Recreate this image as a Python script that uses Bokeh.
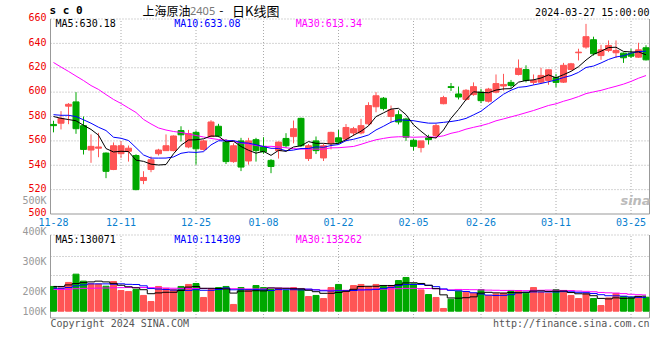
import numpy as np
import pandas as pd
from bokeh.plotting import figure
from bokeh.models import Range1d, Label, ColumnDataSource
from bokeh.core.properties import value
from bokeh.embed import file_html
from bokeh.resources import INLINE

# ---------------- data ----------------
opens = [573.5, 574.5, 588.5, 592, 572.5, 552.5, 554, 550, 536.5, 549.5,
         551.5, 548, 527.5, 536.5, 549.5, 552, 552, 568.5, 555, 567,
         553, 563.5, 572, 559, 543, 560, 543.5, 561, 555.5, 544,
         552, 562, 563.5, 578.5, 545.5, 560, 546, 558, 562.5, 561.5,
         566.5, 566.5, 574, 588, 595, 580, 581.5, 578, 560.5, 554.5,
         562.5, 564.5, 590.5, 604.5, 598.5, 594, 598, 600, 592.5, 600,
         605, 608, 614.5, 618.5, 608, 608.2, 609.6, 612, 608.2, 618.6,
         632.3, 637, 643, 630, 634.2, 632.3, 632, 632, 628.7, 636.4]
highs = [576.5, 584.4, 591, 600, 580, 565.3, 566.6, 550.5, 558.7, 559.8,
         556.2, 549, 535.1, 547.2, 553.5, 565.3, 564.5, 572, 569, 568.5,
         561, 577, 574, 561.5, 558, 562.5, 562.5, 562.5, 563, 545,
         559.5, 566.3, 576.7, 579, 557.5, 563.6, 557.5, 567.5, 569, 573.8,
         571.5, 578.1, 591.7, 600, 596, 589, 585, 579, 561.5, 560,
         565, 574, 597, 607.5, 604.6, 602.5, 608, 602.7, 603.5, 614.5,
         615, 610, 626.8, 622, 614.5, 620, 618.5, 615, 624, 624,
         635.6, 656, 645.5, 638.8, 642.4, 642.4, 632.5, 635.5, 640.5, 638.5]
lows = [567, 569.4, 573.7, 565.8, 548.8, 542, 546.6, 529.4, 536, 545.8,
        543, 519.5, 524.5, 534.3, 548, 552, 551.5, 559.5, 554, 540.4,
        552, 563, 563, 541, 542, 535.2, 540.5, 543, 549.5, 533.5,
        545.5, 554.3, 558, 555, 543.5, 549.2, 543.5, 553, 557.6, 559.5,
        564, 565.3, 572.6, 583.5, 585, 575.3, 573.5, 560, 552, 550.5,
        557, 562, 590, 601, 594, 593, 597, 591, 591.5, 599,
        601.3, 603.5, 613.7, 608, 606, 607.5, 606, 604, 607.5, 618,
        626, 635.6, 630, 626.5, 632.8, 628, 624, 628, 628.2, 626]
closes = [572.5, 578.5, 590, 570, 553, 555.5, 555, 535, 556, 556,
          554, 520, 530, 544.5, 552.5, 556, 564, 565, 566, 553.5,
          560, 575.5, 564, 543, 556, 538.5, 560, 552, 551, 539,
          559, 556, 570, 556, 556, 552, 556, 567, 559, 571,
          570, 572.5, 589, 597, 586.5, 585.5, 575.5, 563, 555.5, 560,
          561, 572.5, 595.5, 603.8, 596, 601.5, 604.5, 593, 602.5, 607,
          606.3, 605.5, 619.5, 609.5, 609.6, 613.7, 618.3, 608, 622, 623.2,
          632.8, 645.5, 631.5, 634.7, 638.3, 634.2, 628.2, 629.5, 634.7, 626.5]
volumes = [209000, 197000, 243000, 313000, 254000, 231000, 229000, 211000, 251000, 175000,
           166000, 183000, 133000, 82000, 209000, 192000, 183000, 209000, 226000, 234000,
           116000, 183000, 200000, 209000, 57000, 200000, 183000, 217000, 200000, 183000,
           192000, 175000, 200000, 192000, 124000, 133000, 107000, 200000, 226000, 175000,
           217000, 226000, 209000, 226000, 209000, 217000, 259000, 285000, 231000, 180000,
           141000, 116000, 23000, 101000, 169000, 161000, 152000, 183000, 133000, 146000,
           152000, 175000, 175000, 152000, 200000, 158000, 152000, 183000, 161000, 133000,
           107000, 146000, 107000, 48000, 112000, 150000, 124000, 118000, 124000, 118000]

# moving-average values shown before each window is complete
ma5_head = [580, 578.5, 577.5, 576.5]
ma10_head = [581.5, 581, 581, 580, 577.3, 574.5, 571.2, 568.5, 563]
ma30_head = [624.3, 620.6, 617, 613.2, 609.5, 605.4, 602.2, 598, 594, 590.7,
             587, 583.3, 577.6, 573.9, 570.6, 568.9, 567.7, 566.9, 565.7, 564.4,
             563.2, 562, 561.1, 560.7, 559.5, 558.3, 557.5, 556.2, 555.4]
vma5_head = [209000, 209000, 222000, 234000]
vma10_head = [194000, 194000, 200000, 214000, 222000, 231000, 231000, 231000, 228000]
vma30_head = [183000, 183000, 184000, 190000, 193000, 194000, 195000, 196000, 198000, 199000,
              200000, 200000, 200000, 199000, 198000, 196000, 194000, 193000, 192000, 192000,
              192000, 192000, 191000, 191000, 190000, 189000, 188000, 188000, 188000]

holidays = ["2024-01-01", "2024-02-09", "2024-02-12", "2024-02-13", "2024-02-14",
            "2024-02-15", "2024-02-16"]
tick_labels = ["11-28", "12-11", "12-25", "01-08", "01-22", "02-05", "02-26", "03-11", "03-25"]
price_ticks = [500, 520, 540, 560, 580, 600, 620, 640, 660]
vol_tick_text = ["100K", "200K", "300K", "400K", "500K"]

legend_price = ["MA5:630.18", "MA10:633.08", "MA30:613.34"]
legend_vol = ["MA5:130071", "MA10:114309", "MA30:135262"]

# ---------------- derived ----------------
days = pd.bdate_range("2023-11-28", "2024-03-27")
days = [d for d in days if d.strftime("%Y-%m-%d") not in holidays]
date_lbl = [d.strftime("%m-%d") for d in days]
n = len(opens)
idx = np.arange(n)
tick_idx = [date_lbl.index(t) for t in tick_labels]


def mavg(arr, w, head):
    s = pd.Series(arr, dtype=float).rolling(w).mean().to_numpy()
    s[:w - 1] = head
    return s


RED = "#FF5555"
GREEN = "#00A800"
o = np.array(opens, float)
c = np.array(closes, float)
col = [RED if cc >= oo else GREEN for oo, cc in zip(o, c)]
src = ColumnDataSource(dict(x=idx, h=highs, l=lows,
                            top=np.maximum(o, c), bot=np.minimum(o, c), col=col,
                            v=volumes,
                            ma5=mavg(closes, 5, ma5_head), ma10=mavg(closes, 10, ma10_head),
                            ma30=mavg(closes, 30, ma30_head),
                            vma5=mavg(volumes, 5, vma5_head), vma10=mavg(volumes, 10, vma10_head),
                            vma30=mavg(volumes, 30, vma30_head)))

# ---------------- geometry / styles ----------------
MONO = "DejaVu Sans Mono"
GRIDC = "#AAAAAA"
BORDER = "#999999"
W, H = 660, 360
PX = 7.5                      # pixels per candle slot
XS = -0.4 - 50 / PX           # canvas left edge in index units
XE = XS + W / PX
x_lo, x_hi = -0.4, -0.4 + 599 / PX   # panel edges
PY = 195 / 160                # pixels per price unit
y_top = 660 + 18.5 / PY
y_bot = 500 - (H - 213.5) / PY
S = 8450.0                    # volume per pixel
v_base = 310.7                # baseline row from top of canvas
v_top, v_bot = 76.2 * S, -6.8 * S     # volume panel edges

p = figure(width=W, height=H, x_range=Range1d(XS, XE), y_range=Range1d(y_bot, y_top),
           output_backend="svg", toolbar_location=None,
           x_axis_location=None, y_axis_location=None,
           min_border_left=0, min_border_right=0, min_border_top=0, min_border_bottom=0)
p.extra_y_ranges = {"vol": Range1d(-(H - v_base) * S, v_base * S)}
p.outline_line_color = None
p.grid.visible = False
p.background_fill_color = "white"
p.border_fill_color = "white"

# ---- grid lines
gx = tick_idx[1:]
p.segment(x0=x_lo, x1=x_hi, y0=price_ticks[1:], y1=price_ticks[1:],
          line_color=GRIDC, line_dash="1 2", line_width=1)
p.segment(x0=gx, x1=gx, y0=500, y1=660, line_color=GRIDC, line_dash="1 2", line_width=1)
p.segment(x0=gx, x1=gx, y0=v_bot, y1=v_top, line_color=GRIDC, line_dash="1 2",
          line_width=1, y_range_name="vol")
p.segment(x0=x_lo, x1=x_hi, y0=[35.7 * S, 54.7 * S, v_top], y1=[35.7 * S, 54.7 * S, v_top],
          line_color=GRIDC, line_dash="1 2", line_width=1, y_range_name="vol")
# ---- panel borders (left, right, bottom)
p.segment(x0=[x_lo, x_hi, x_lo], x1=[x_lo, x_hi, x_hi], y0=[500, 500, 500], y1=[660, 660, 500],
          line_color=BORDER, line_width=1)
p.segment(x0=[x_lo, x_hi, x_lo], x1=[x_lo, x_hi, x_hi], y0=[v_bot, v_bot, v_bot],
          y1=[v_top, v_top, v_bot], line_color=BORDER, line_width=1, y_range_name="vol")

# ---- candles and averages
p.segment(x0="x", y0="l", x1="x", y1="h", color="col", line_width=1, source=src)
p.vbar(x="x", width=0.8, top="top", bottom="bot", fill_color="col", line_color="col", source=src)
p.line("x", "ma30", color="#FF00FF", line_width=1, source=src)
p.line("x", "ma10", color="#0000FF", line_width=1, source=src)
p.line("x", "ma5", color="black", line_width=1, source=src)

# ---- volume
p.vbar(x="x", width=0.8, top="v", bottom=0, fill_color="col", line_color="col",
       source=src, y_range_name="vol")
p.step("x", "vma30", mode="center", color="#FF00FF", line_width=1, source=src, y_range_name="vol")
p.step("x", "vma10", mode="center", color="#0000FF", line_width=1, source=src, y_range_name="vol")
p.step("x", "vma5", mode="center", color="black", line_width=1, source=src, y_range_name="vol")

# ---- axis labels (drawn slightly above their grid lines, as in the original)
lab_x = -0.93
lift = 1.7 / PY
p.text(x=lab_x, y=[t + lift for t in price_ticks], text=[str(t) for t in price_ticks],
       text_color="#EE0000", text_font=value(MONO), text_font_size="10px",
       text_align="right", text_baseline="middle")
vol_lab_y = [0, 19.7 * S, 50 * S, 79.7 * S, 110.4 * S]
p.text(x=lab_x, y=vol_lab_y, text=vol_tick_text, text_color="#999999",
       text_font=value(MONO), text_font_size="10px", text_align="right", text_baseline="middle",
       y_range_name="vol")
p.text(x=tick_idx, y=89 * S, text=tick_labels, text_color="#0A7FD0",
       text_font=value(MONO), text_font_size="10px", text_align="center", text_baseline="middle",
       y_range_name="vol")

# ---- legends
for txt, xx, cc in zip(legend_price, [0.27, 16.1, 32.3], ["black", "#0000FF", "#FF00FF"]):
    p.add_layout(Label(x=xx, y=655.9, text=txt, text_color=cc, text_font=MONO,
                       text_font_size="10px", text_baseline="middle"))
for txt, xx, cc in zip(legend_vol, [0.27, 16.1, 32.3], ["black", "#0000FF", "#FF00FF"]):
    p.add_layout(Label(x=xx, y=71.7 * S, y_range_name="vol", text=txt, text_color=cc,
                       text_font=MONO, text_font_size="10px", text_baseline="middle"))

# ---- title row
ty = 660 + 8.5 / PY
p.add_layout(Label(x=-0.53, y=ty, text="s c 0", text_font=MONO, text_font_style="bold",
                   text_font_size="11px", text_baseline="middle", text_color="black"))
p.add_layout(Label(x=11.87, y=ty, text="上海原油", text_font="Noto Sans CJK SC",
                   text_font_size="12px", text_baseline="middle", text_color="black"))
p.add_layout(Label(x=18.2, y=ty, text="2405", text_font="Noto Sans",
                   text_font_size="11px", text_baseline="middle", text_color="#777777"))
p.add_layout(Label(x=22.1, y=ty, text="-", text_font="Noto Sans CJK SC",
                   text_font_size="12px", text_baseline="middle", text_color="black"))
p.add_layout(Label(x=23.8, y=ty, text="日K线图", text_font="Noto Sans CJK SC",
                   text_font_size="13px", text_baseline="middle", text_color="black"))
p.add_layout(Label(x=x_hi, y=660 + 6.2 / PY, text="2024-03-27 15:00:00", text_font=MONO,
                   text_font_size="10px", text_align="right", text_baseline="middle",
                   text_color="black"))
p.add_layout(Label(x=77.6, y=511, text="sina", text_font="DejaVu Sans",
                   text_font_style="bold italic", text_font_size="13px", text_align="center",
                   text_baseline="middle", text_color="#BBBBBB"))

# ---- footer
p.add_layout(Label(x=x_lo, y=-12.6 * S, y_range_name="vol", text="Copyright 2024 SINA.COM",
                   text_font=MONO, text_font_size="10px", text_baseline="middle",
                   text_color="#555555"))
p.add_layout(Label(x=x_hi, y=-12.6 * S, y_range_name="vol", text="http://finance.sina.com.cn",
                   text_font=MONO, text_font_size="10px", text_align="right",
                   text_baseline="middle", text_color="#555555"))

open("out.html", "w").write(file_html(p, INLINE))
